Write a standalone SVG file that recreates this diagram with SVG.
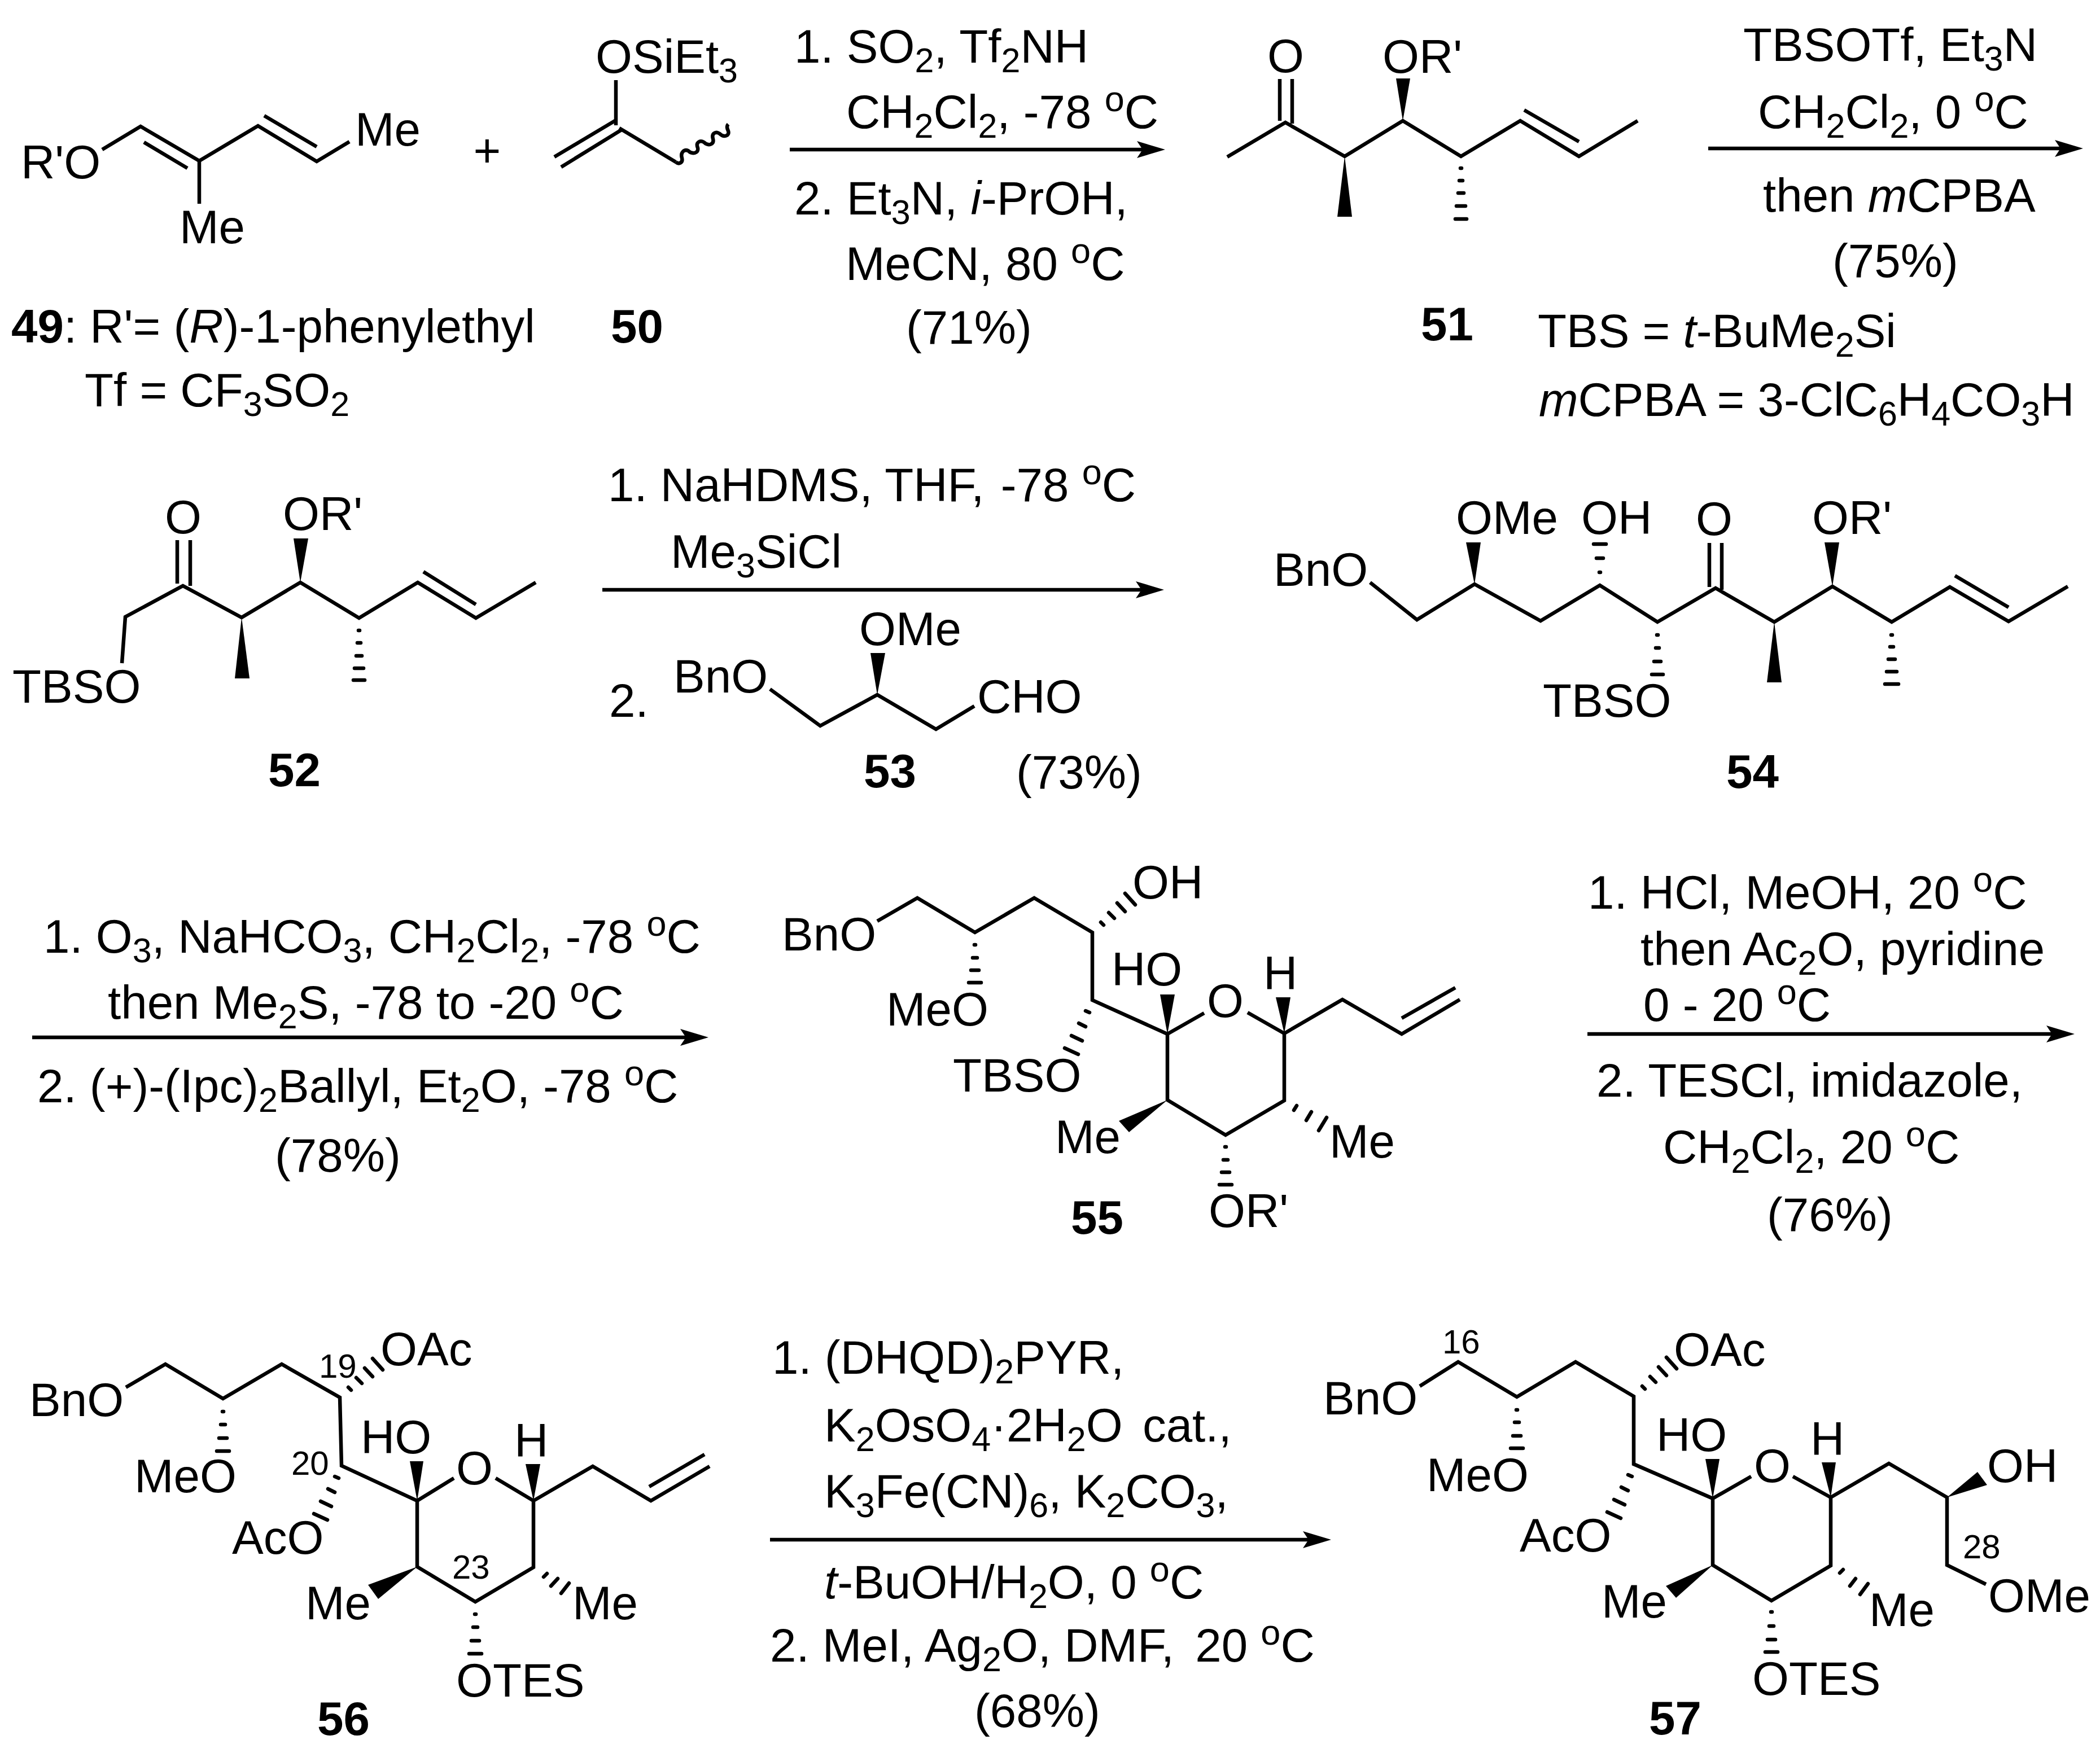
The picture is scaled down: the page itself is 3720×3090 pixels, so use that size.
<svg xmlns="http://www.w3.org/2000/svg" width="3720" height="3090" viewBox="0 0 3720 3090">
<style>
text{font-family:"Liberation Sans",Arial,sans-serif;font-size:83.5px;fill:#000}
.s{font-size:61px}
.o{font-size:63px}
.n{font-size:60px}
.b{font-weight:bold}
.i{font-style:italic}
.l{stroke:#000;stroke-width:6.5;fill:none;stroke-linecap:butt;stroke-linejoin:miter}
.h{stroke:#000;stroke-width:6.5;fill:none;stroke-linecap:round}
.w{fill:#000;stroke:none}
.a{stroke:#000;stroke-width:6.5;fill:none}
</style>
<defs>
<marker id="head" markerUnits="userSpaceOnUse" markerWidth="52" markerHeight="30" refX="25" refY="15" orient="auto"><path d="M50,15 L0,0 L10,15 L0,30 Z" fill="#000"/></marker>
</defs>
<rect width="3720" height="3090" fill="#fff"/>
<g id="connectors">
<line class="a" x1="1399" y1="265" x2="2039" y2="265" marker-end="url(#head)"/>
<line class="a" x1="3026" y1="263" x2="3665" y2="263" marker-end="url(#head)"/>
<line class="a" x1="1067" y1="1045" x2="2037" y2="1045" marker-end="url(#head)"/>
<line class="a" x1="57" y1="1838" x2="1230" y2="1838" marker-end="url(#head)"/>
<line class="a" x1="2812" y1="1832" x2="3650" y2="1832" marker-end="url(#head)"/>
<line class="a" x1="1364" y1="2728" x2="2333" y2="2728" marker-end="url(#head)"/>
</g>
<g id="reagents-1">
<text x="1407" y="111">1. SO<tspan class="s" dy="17">2</tspan><tspan dy="-17">, Tf</tspan><tspan class="s" dy="17">2</tspan><tspan dy="-17">NH</tspan></text>
<text x="1499" y="227">CH<tspan class="s" dy="17">2</tspan><tspan dy="-17">Cl</tspan><tspan class="s" dy="17">2</tspan><tspan dy="-17">, -78 </tspan><tspan class="o" dy="-30">o</tspan><tspan dy="30">C</tspan></text>
<text x="1407" y="380">2. Et<tspan class="s" dy="17">3</tspan><tspan dy="-17">N, </tspan><tspan class="i">i</tspan>-PrOH,</text>
<text x="1498" y="496">MeCN, 80 <tspan class="o" dy="-30">o</tspan><tspan dy="30">C</tspan></text>
<text x="1605" y="609">(71%)</text>
</g>
<g id="reagents-2">
<text x="3088" y="108">TBSOTf, Et<tspan class="s" dy="17">3</tspan><tspan dy="-17">N</tspan></text>
<text x="3114" y="227">CH<tspan class="s" dy="17">2</tspan><tspan dy="-17">Cl</tspan><tspan class="s" dy="17">2</tspan><tspan dy="-17">, 0 </tspan><tspan class="o" dy="-30">o</tspan><tspan dy="30">C</tspan></text>
<text x="3123" y="375">then <tspan class="i">m</tspan>CPBA</text>
<text x="3246" y="491">(75%)</text>
<text x="2724" y="615">TBS = <tspan class="i">t</tspan>-BuMe<tspan class="s" dy="17">2</tspan><tspan dy="-17">Si</tspan></text>
<text x="2726" y="737"><tspan class="i">m</tspan>CPBA = 3-ClC<tspan class="s" dy="17">6</tspan><tspan dy="-17">H</tspan><tspan class="s" dy="17">4</tspan><tspan dy="-17">CO</tspan><tspan class="s" dy="17">3</tspan><tspan dy="-17">H</tspan></text>
</g>
<g id="reagents-3">
<text x="1077" y="888">1. NaHDMS, THF, <tspan dx="6">-78 </tspan><tspan class="o" dy="-30">o</tspan><tspan dy="30">C</tspan></text>
<text x="1188" y="1006">Me<tspan class="s" dy="17">3</tspan><tspan dy="-17">SiCl</tspan></text>
<text x="1079" y="1270">2.</text>
<text x="1800" y="1397">(73%)</text>
</g>
<g id="reagents-4">
<text x="77" y="1688">1. O<tspan class="s" dy="17">3</tspan><tspan dy="-17">, NaHCO</tspan><tspan class="s" dy="17">3</tspan><tspan dy="-17">, CH</tspan><tspan class="s" dy="17">2</tspan><tspan dy="-17">Cl</tspan><tspan class="s" dy="17">2</tspan><tspan dy="-17">, -78 </tspan><tspan class="o" dy="-30">o</tspan><tspan dy="30">C</tspan></text>
<text x="191" y="1805">then Me<tspan class="s" dy="17">2</tspan><tspan dy="-17">S, -78 to -20 </tspan><tspan class="o" dy="-30">o</tspan><tspan dy="30">C</tspan></text>
<text x="66" y="1953">2. (+)-(Ipc)<tspan class="s" dy="17">2</tspan><tspan dy="-17">Ballyl, Et</tspan><tspan class="s" dy="17">2</tspan><tspan dy="-17">O, -78 </tspan><tspan class="o" dy="-30">o</tspan><tspan dy="30">C</tspan></text>
<text x="487" y="2076">(78%)</text>
</g>
<g id="reagents-5">
<text x="2813" y="1610">1. HCl, MeOH, 20 <tspan class="o" dy="-30">o</tspan><tspan dy="30">C</tspan></text>
<text x="2906" y="1710">then Ac<tspan class="s" dy="17">2</tspan><tspan dy="-17">O, pyridine</tspan></text>
<text x="2911" y="1809">0 - 20 <tspan class="o" dy="-30">o</tspan><tspan dy="30">C</tspan></text>
<text x="2828" y="1943">2. TESCl, imidazole,</text>
<text x="2946" y="2061">CH<tspan class="s" dy="17">2</tspan><tspan dy="-17">Cl</tspan><tspan class="s" dy="17">2</tspan><tspan dy="-17">, 20 </tspan><tspan class="o" dy="-30">o</tspan><tspan dy="30">C</tspan></text>
<text x="3130" y="2181">(76%)</text>
</g>
<g id="reagents-6">
<text x="1368" y="2434">1. (DHQD)<tspan class="s" dy="17">2</tspan><tspan dy="-17">PYR,</tspan></text>
<text x="1460" y="2554">K<tspan class="s" dy="17">2</tspan><tspan dy="-17">OsO</tspan><tspan class="s" dy="17">4</tspan><tspan dy="-17">·2H</tspan><tspan class="s" dy="17">2</tspan><tspan dy="-17">O </tspan><tspan dx="12">cat.,</tspan></text>
<text x="1460" y="2671">K<tspan class="s" dy="17">3</tspan><tspan dy="-17">Fe(CN)</tspan><tspan class="s" dy="17">6</tspan><tspan dy="-17">, K</tspan><tspan class="s" dy="17">2</tspan><tspan dy="-17">CO</tspan><tspan class="s" dy="17">3</tspan><tspan dy="-17">,</tspan></text>
<text x="1460" y="2832"><tspan class="i">t</tspan>-BuOH/H<tspan class="s" dy="17">2</tspan><tspan dy="-17">O, 0 </tspan><tspan class="o" dy="-30">o</tspan><tspan dy="30">C</tspan></text>
<text x="1364" y="2944">2. MeI, Ag<tspan class="s" dy="17">2</tspan><tspan dy="-17">O, DMF, </tspan><tspan dx="14">20 </tspan><tspan class="o" dy="-30">o</tspan><tspan dy="30">C</tspan></text>
<text x="1726" y="3060">(68%)</text>
</g>
<g id="plus"><text x="863" y="295" text-anchor="middle">+</text></g>
<g id="compound-49">
<polyline class="l" points="181,265 249,224 353,285 457,223 561,286 619,251"/>
<line class="l" x1="255" y1="252" x2="332" y2="298"/>
<line class="l" x1="468" y1="205" x2="561" y2="260"/>
<line class="l" x1="353" y1="285" x2="353" y2="361"/>
<text x="37" y="316">R'O</text><text x="629" y="258">Me</text><text x="318" y="431">Me</text>
<text x="20" y="607"><tspan class="b">49</tspan>: R'= (<tspan class="i">R</tspan>)-1-phenylethyl</text>
<text x="150" y="720">Tf = CF<tspan class="s" dy="17">3</tspan><tspan dy="-17">SO</tspan><tspan class="s" dy="17">2</tspan></text>
</g>
<g id="compound-50">
<text x="1055" y="129">OSiEt<tspan class="s" dy="17">3</tspan></text>
<line class="l" x1="1091" y1="142" x2="1091" y2="222"/>
<line class="l" x1="982" y1="278" x2="1091" y2="213"/>
<line class="l" x1="994" y1="296" x2="1101" y2="230"/>
<line class="l" x1="1097" y1="227" x2="1197" y2="287"/>
<path class="l" d="M1197,287 C1203,292 1210,288 1208,280 C1205,270 1212,264 1219,267 C1226,274 1238,272 1236,262 C1232,252 1240,248 1247,252 C1254,259 1266,257 1263,246 C1260,236 1268,232 1275,237 C1282,244 1293,241 1290,232 C1287,226 1288,222 1290,220"/>
<text x="1082" y="607" class="b">50</text>
</g>
<g id="compound-51">
<text x="2245" y="128">O</text><text x="2449" y="129">OR'</text>
<line class="l" x1="2267" y1="140" x2="2267" y2="214"/>
<line class="l" x1="2289" y1="140" x2="2289" y2="219"/>
<polyline class="l" points="2174,278 2277,217 2382,277 2485,214 2588,277 2693,214 2797,277 2901,214"/>
<line class="l" x1="2700" y1="195" x2="2797" y2="251"/>
<polygon class="w" points="2485,214 2473,139 2498,139"/>
<polygon class="w" points="2382,277 2369,384 2395,384"/>
<path class="h" d="M2587,298h2 M2585,320h6 M2583,342h10 M2580,365h16 M2578,388h20"/>
<text x="2517" y="603" class="b">51</text>
</g>
<g id="compound-52">
<text x="22" y="1245">TBSO</text><text x="292" y="945">O</text><text x="501" y="939">OR'</text>
<polyline class="l" points="216,1175 222,1093 324,1038 428,1094 532,1032 636,1095 740,1032 843,1095 949,1032"/>
<line class="l" x1="750" y1="1013" x2="843" y2="1071"/>
<line class="l" x1="314" y1="957" x2="314" y2="1034"/>
<line class="l" x1="337" y1="957" x2="337" y2="1038"/>
<polygon class="w" points="532,1032 520,954 546,954"/>
<polygon class="w" points="428,1094 416,1202 442,1202"/>
<path class="h" d="M635,1117h2 M633,1139h6 M631,1162h10 M628,1184h16 M626,1205h20"/>
<text x="475" y="1393" class="b">52</text>
</g>
<g id="compound-53">
<text x="1193" y="1227">BnO</text><text x="1522" y="1143">OMe</text><text x="1731" y="1263">CHO</text>
<polyline class="l" points="1364,1221 1453,1286 1554,1231 1658,1292 1726,1251"/>
<polygon class="w" points="1554,1231 1542,1157 1568,1157"/>
<text x="1530" y="1395" class="b">53</text>
</g>
<g id="compound-54">
<text x="2256" y="1038">BnO</text><text x="2579" y="946">OMe</text><text x="2801" y="946">OH</text><text x="3004" y="948">O</text><text x="3210" y="946">OR'</text><text x="2733" y="1270">TBSO</text>
<polyline class="l" points="2427,1032 2510,1098 2612,1035 2729,1100 2834,1037 2936,1102 3039,1042 3143,1102 3246,1039 3351,1102 3454,1040 3558,1101 3663,1039"/>
<line class="l" x1="3463" y1="1020" x2="3558" y2="1076"/>
<line class="l" x1="3028" y1="962" x2="3028" y2="1040"/>
<line class="l" x1="3050" y1="962" x2="3050" y2="1045"/>
<polygon class="w" points="2612,1035 2597,961 2623,961"/>
<polygon class="w" points="3246,1039 3232,961 3258,961"/>
<polygon class="w" points="3143,1102 3130,1209 3156,1209"/>
<path class="h" d="M2833,1014h2 M2828,989h12 M2823,964h22"/>
<path class="h" d="M2935,1125h2 M2933,1148h6 M2930,1172h12 M2926,1195h20"/>
<path class="h" d="M3350,1125h2 M3348,1146h6 M3345,1168h12 M3342,1190h18 M3339,1212h24"/>
<text x="3058" y="1396" class="b">54</text>
</g>
<g id="compound-55">
<text x="1385" y="1684">BnO</text><text x="1570" y="1817">MeO</text><text x="1688" y="1934">TBSO</text><text x="2006" y="1592">OH</text><text x="1969" y="1746">HO</text><text x="2138" y="1802">O</text><text x="2238" y="1753">H</text><text x="1869" y="2043">Me</text><text x="2355" y="2051">Me</text><text x="2141" y="2174">OR'</text>
<polyline class="l" points="1554,1632 1625,1591 1727,1652 1832,1591 1935,1652 1935,1772 2068,1832 2068,1949 2171,2011 2275,1950 2275,1831 2378,1771 2483,1832 2586,1771"/>
<line class="l" x1="2068" y1="1832" x2="2133" y2="1795"/>
<line class="l" x1="2275" y1="1831" x2="2210" y2="1794"/>
<line class="l" x1="2483" y1="1804" x2="2578" y2="1750"/>
<polygon class="w" points="2068,1832 2055,1762 2081,1762"/>
<polygon class="w" points="2275,1831 2260,1767 2286,1767"/>
<polygon class="w" points="2068,1949 1982,1986 2000,2006"/>
<path class="h" d="M1726,1674h2 M1723,1697h8 M1720,1719h14 M1716,1741h22"/>
<path class="h" d="M1950,1634L1955,1639 M1964,1617L1974,1627 M1979,1600L1993,1615 M1993,1583L2011,1603"/>
<path class="h" d="M1923,1791L1930,1794 M1911,1813L1923,1819 M1898,1835L1917,1844 M1886,1857L1910,1868"/>
<path class="h" d="M2292,1967L2297,1959 M2314,1985L2323,1970 M2336,2003L2350,1980"/>
<path class="h" d="M2170,2032h2 M2167,2055h8 M2164,2077h14 M2160,2099h22"/>
<text x="1897" y="2186" class="b">55</text>
</g>
<g id="compound-56">
<text x="52" y="2509">BnO</text><text x="674" y="2419">OAc</text><text x="238" y="2644">MeO</text><text x="639" y="2575">HO</text><text x="808" y="2630">O</text><text x="911" y="2581">H</text><text x="411" y="2753">AcO</text><text x="541" y="2869">Me</text><text x="1014" y="2869">Me</text><text x="808" y="3006">OTES</text>
<text x="565" y="2441" class="n">19</text><text x="516" y="2613" class="n">20</text><text x="801" y="2797" class="n">23</text>
<polyline class="l" points="223,2458 293,2417 395,2478 499,2417 602,2476 605,2597 739,2659 739,2776 842,2838 945,2777 945,2659 1050,2598 1153,2659 1257,2598"/>
<line class="l" x1="739" y1="2659" x2="804" y2="2619"/>
<line class="l" x1="945" y1="2659" x2="878" y2="2619"/>
<line class="l" x1="1150" y1="2634" x2="1248" y2="2577"/>
<polygon class="w" points="739,2659 726,2589 750,2589"/>
<polygon class="w" points="945,2659 931,2594 957,2594"/>
<polygon class="w" points="739,2776 652,2808 670,2833"/>
<path class="h" d="M394,2501h2 M391,2524h8 M388,2548h14 M384,2571h22"/>
<path class="h" d="M617,2458L622,2463 M631,2441L641,2451 M646,2424L660,2439 M660,2407L678,2427"/>
<path class="h" d="M593,2616L600,2619 M581,2638L593,2644 M568,2660L587,2669 M556,2682L580,2693"/>
<path class="h" d="M963,2794L969,2788 M976,2810L988,2797 M994,2823L1008,2805"/>
<path class="h" d="M841,2860h2 M838,2883h8 M835,2907h14 M831,2930h22"/>
<text x="562" y="3074" class="b">56</text>
</g>
<g id="compound-57">
<text x="2344" y="2506">BnO</text><text x="2965" y="2420">OAc</text><text x="2527" y="2642">MeO</text><text x="2934" y="2571">HO</text><text x="3107" y="2626">O</text><text x="3207" y="2578">H</text><text x="3520" y="2626">OH</text><text x="3522" y="2856">OMe</text><text x="2692" y="2749">AcO</text><text x="2837" y="2866">Me</text><text x="3311" y="2881">Me</text><text x="3104" y="3003">OTES</text>
<text x="2555" y="2398" class="n">16</text><text x="3477" y="2761" class="n">28</text>
<polyline class="l" points="2515,2456 2583,2413 2687,2475 2791,2413 2894,2474 2894,2594 3034,2655 3034,2773 3138,2836 3243,2774 3243,2653 3346,2593 3449,2653 3449,2773 3518,2807"/>
<line class="l" x1="3034" y1="2655" x2="3102" y2="2616"/>
<line class="l" x1="3243" y1="2653" x2="3176" y2="2616"/>
<polygon class="w" points="3034,2655 3021,2585 3046,2585"/>
<polygon class="w" points="3243,2653 3227,2591 3252,2591"/>
<polygon class="w" points="3449,2653 3503,2608 3520,2631"/>
<polygon class="w" points="3034,2773 2951,2810 2969,2831"/>
<path class="h" d="M2686,2498h2 M2683,2520h8 M2680,2544h14 M2676,2566h22"/>
<path class="h" d="M2909,2456L2914,2461 M2923,2439L2933,2449 M2938,2422L2952,2437 M2952,2405L2970,2425"/>
<path class="h" d="M2884,2613L2891,2616 M2872,2635L2884,2641 M2859,2657L2878,2666 M2847,2679L2871,2690"/>
<path class="h" d="M3259,2787L3265,2781 M3277,2810L3287,2797 M3295,2825L3309,2806"/>
<path class="h" d="M3137,2856h2 M3134,2881h8 M3131,2905h14 M3127,2927h22"/>
<text x="2921" y="3073" class="b">57</text>
</g>
</svg>
